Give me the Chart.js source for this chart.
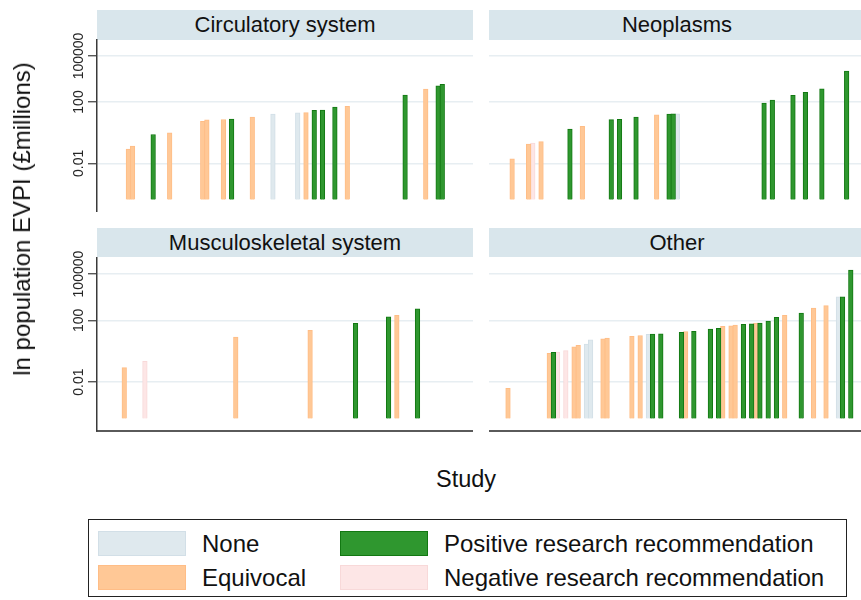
<!DOCTYPE html>
<html>
<head>
<meta charset="utf-8">
<title>Population EVPI by study</title>
<script src="https://cdn.jsdelivr.net/npm/chart.js@4.4.1/dist/chart.umd.min.js"></script>
<style>
  html, body { margin: 0; padding: 0; background: #fff; }
  #page { position: relative; width: 861px; height: 600px; overflow: hidden;
          font-family: "Liberation Sans", Arial, Helvetica, sans-serif; color: #111; }
  #page canvas { position: absolute; }
  .hdr { position: absolute; background: #d9e6ec; font-size: 22px; text-align: center; }
  .ytitle { position: absolute; left: 22px; top: 219px; font-size: 24px; white-space: nowrap;
            transform: translate(-50%, -50%) rotate(-90deg); }
  .xtitle { position: absolute; left: 466px; top: 479px; font-size: 23.5px;
            transform: translate(-50%, -50%); }
  .legend { position: absolute; left: 88px; top: 519px; width: 759px; height: 78px;
            border: 1px solid #222; box-sizing: border-box; }
  .sw { position: absolute; width: 88px; height: 25px; box-sizing: border-box; border: 1px solid; }
  .lt { position: absolute; font-size: 24px; line-height: 25px; white-space: nowrap; }
</style>
</head>
<body>
<div id="page">
  <div class="hdr" id="h0" style="left:97px;top:10px;width:376px;height:30px;line-height:30px;"></div>
  <div class="hdr" id="h1" style="left:489px;top:10px;width:376px;height:30px;line-height:30px;"></div>
  <div class="hdr" id="h2" style="left:97px;top:228px;width:376px;height:29px;line-height:29px;"></div>
  <div class="hdr" id="h3" style="left:489px;top:228px;width:376px;height:29px;line-height:29px;"></div>

  <!-- each canvas starts at its header so rotated tick labels near the top are not cut -->
  <canvas id="c0" width="473" height="202" style="left:0px;top:10px;"></canvas>
  <canvas id="c1" width="376" height="202" style="left:489px;top:10px;"></canvas>
  <canvas id="c2" width="473" height="205" style="left:0px;top:228px;"></canvas>
  <canvas id="c3" width="376" height="205" style="left:489px;top:228px;"></canvas>

  <div class="ytitle"></div>
  <div class="xtitle"></div>

  <div class="legend" id="legend"></div>
</div>

<script>
// Recommendation categories (legend order) and panel titles
const categories = ['None', 'Equivocal', 'Positive research recommendation', 'Negative research recommendation'];
const panelTitles = ['Circulatory system', 'Neoplasms', 'Musculoskeletal system', 'Other'];
const xAxisTitle = 'Study';
const yAxisTitle = 'ln population EVPI (£millions)';

// y-axis ticks (log scale)
const yTickValues = [0.01, 100, 100000];
const yTickLabels = ['0.01', '100', '100000'];

// Circulatory system: study rank, population EVPI (£m), recommendation
const circStudy = [4, 5, 10, 14, 22, 23, 27, 29, 34, 39, 45, 47, 49, 51, 54, 57, 71, 76, 79, 80];
const circEVPI  = [0.085, 0.135, 0.76, 1.0, 5.6, 6.8, 7.3, 7.6, 10.6, 16.6, 20, 20.5, 29, 29.5, 47, 52, 285, 700, 1140, 1400];
const circRec   = ['Equivocal', 'Equivocal', 'Positive', 'Equivocal', 'Equivocal', 'Equivocal', 'Equivocal', 'Positive',
                   'Equivocal', 'None', 'None', 'Equivocal', 'Positive', 'Positive', 'Positive', 'Equivocal',
                   'Positive', 'Equivocal', 'Positive', 'Positive'];

// Neoplasms
const neoStudy = [2, 6, 7, 9, 16, 19, 26, 28, 32, 37, 40, 41, 42, 63, 65, 70, 73, 77, 83];
const neoEVPI  = [0.02, 0.18, 0.21, 0.26, 1.7, 2.6, 7.1, 7.4, 10.5, 14.4, 16.6, 16.8, 17, 86, 135, 270, 425, 730, 10300];
const neoRec   = ['Equivocal', 'Equivocal', 'Negative', 'Equivocal', 'Positive', 'Equivocal', 'Positive', 'Positive',
                  'Positive', 'Equivocal', 'Positive', 'Positive', 'None', 'Positive', 'Positive', 'Positive',
                  'Positive', 'Positive', 'Positive'];

// Musculoskeletal system
const muscStudy = [3, 8, 30, 48, 59, 67, 69, 74];
const muscEVPI  = [0.086, 0.22, 8.2, 23, 64, 172, 212, 570];
const muscRec   = ['Equivocal', 'Negative', 'Equivocal', 'Equivocal', 'Positive', 'Positive', 'Equivocal', 'Positive'];

// Other
const otherStudy = [1, 11, 12, 13, 15, 17, 18, 20, 21, 24, 25, 31, 33, 35, 36, 38, 43, 44, 46, 50,
                    52, 53, 55, 56, 58, 60, 61, 62, 64, 66, 68, 72, 75, 78, 81, 82, 84];
const otherEVPI  = [0.0039, 0.74, 0.85, 0.88, 1.1, 1.9, 2.4, 2.9, 5.5, 6.3, 7.0, 9.1, 10.5, 12.3, 12.8, 13.5, 16.5, 19, 19.5, 27,
                    30, 41, 45, 49, 55, 60, 66, 67, 90, 157, 212, 300, 630, 895, 3300, 3400, 180000];
const otherRec   = ['Equivocal', 'Equivocal', 'Positive', 'Negative', 'Negative', 'Equivocal', 'Equivocal', 'None', 'None',
                    'Equivocal', 'Equivocal', 'Equivocal', 'Equivocal', 'None', 'Positive', 'Positive', 'Positive',
                    'Equivocal', 'Positive', 'Positive', 'Positive', 'Equivocal', 'Equivocal', 'Equivocal', 'Positive',
                    'Positive', 'Equivocal', 'Positive', 'Positive', 'Positive', 'Equivocal', 'Positive', 'Equivocal',
                    'Equivocal', 'None', 'Positive', 'Positive'];

// ---- appearance ----
const FONT = '"Liberation Sans", Arial, Helvetica, sans-serif';
const TICK_FONT = '"Liberation Sans Narrow", "Liberation Sans", Arial, sans-serif';
const TICK_SIZE = 14;
const BAR_BASE = 4.4e-5;          // bars rise from this value on the log axis
const Y_MIN = 6.8e-6, Y_MAX = 1.1e6;
const X_MIN = -3.6, X_MAX = 87.44;
const AXIS_W = 97, TICK_LEN = 9, LABEL_X = 79;

// With crossAlign 'center' Chart.js centres labels at (axis right - tick - padding - widest/2);
// measure the widest label so the rotated labels sit at LABEL_X.
const meas = document.createElement('canvas').getContext('2d');
meas.font = TICK_SIZE + 'px ' + TICK_FONT;
const widest = Math.max(...yTickLabels.map(t => meas.measureText(t).width));
const tickPad = AXIS_W - TICK_LEN - widest / 2 - LABEL_X;

// colour per recommendation, keyed by the short code used in the data
const recStyle = {
  Positive:  { label: categories[2], bg: '#2f972f', border: '#127812' },
  Equivocal: { label: categories[1], bg: '#ffc896', border: '#ffbd86' },
  Negative:  { label: categories[3], bg: '#fde6e6', border: '#f8d9d9' },
  None:      { label: categories[0], bg: '#dfe9ee', border: '#d2dfe7' }
};
// first dataset is painted last, so green sits on top
const drawOrder = ['Positive', 'Equivocal', 'Negative', 'None'];

function buildDatasets(study, evpi, rec) {
  return drawOrder.map(code => {
    const pts = [];
    study.forEach((s, i) => { if (rec[i] === code) pts.push({ x: s, y: evpi[i] }); });
    const st = recStyle[code];
    return {
      label: st.label,
      data: pts,
      backgroundColor: st.bg,
      borderColor: st.border,
      borderWidth: 1,
      barThickness: 4.6,
      grouped: false,
      base: BAR_BASE
    };
  });
}

function makePanel(canvasId, study, evpi, rec, isLeft, isBottom, headerH) {
  return new Chart(document.getElementById(canvasId), {
    type: 'bar',
    data: { datasets: buildDatasets(study, evpi, rec) },
    options: {
      responsive: false,
      animation: false,
      events: [],
      layout: { padding: { left: 0, right: 0, top: headerH, bottom: isBottom ? 2 : 0 } },
      plugins: { legend: { display: false }, tooltip: { enabled: false }, title: { display: false } },
      scales: {
        x: {
          type: 'linear',
          min: X_MIN, max: X_MAX,
          offset: false,
          display: isBottom,
          ticks: { display: false },
          grid: { display: false, drawTicks: false },
          border: { display: true, color: '#5a5a5a', width: 2 },
          afterFit: s => { s.height = 0; }
        },
        y: {
          type: 'logarithmic',
          min: Y_MIN, max: Y_MAX,
          bounds: 'data',
          stacked: false,
          afterBuildTicks: s => { s.ticks = yTickValues.map(v => ({ value: v })); },
          afterFit: s => { s.width = isLeft ? AXIS_W : 0; },
          ticks: {
            display: isLeft,
            minRotation: 90, maxRotation: 90,
            crossAlign: 'center',
            padding: tickPad,
            color: '#262626',
            font: { family: TICK_FONT, size: TICK_SIZE },
            callback: (v) => { const k = yTickValues.indexOf(v); return k >= 0 ? yTickLabels[k] : ''; }
          },
          grid: {
            color: '#e7eef2', lineWidth: 1.5,
            drawTicks: isLeft, tickLength: TICK_LEN, tickColor: '#3a3a3a', tickWidth: 1.2
          },
          border: { display: isLeft, color: '#3a3a3a', width: 1.5 }
        }
      }
    }
  });
}

makePanel('c0', circStudy, circEVPI, circRec, true, false, 30);
makePanel('c1', neoStudy, neoEVPI, neoRec, false, false, 30);
makePanel('c2', muscStudy, muscEVPI, muscRec, true, true, 30);
makePanel('c3', otherStudy, otherEVPI, otherRec, false, true, 30);

// panel headers and axis titles
panelTitles.forEach((t, i) => { document.getElementById('h' + i).textContent = t; });
document.querySelector('.xtitle').textContent = xAxisTitle;
document.querySelector('.ytitle').textContent = yAxisTitle;

// legend: two columns, two rows
const legend = document.getElementById('legend');
const legendOrder = ['None', 'Positive', 'Equivocal', 'Negative'];
const legendPos = [[9, 11], [251, 11], [9, 45], [251, 45]];
legendOrder.forEach((code, i) => {
  const st = recStyle[code];
  const [lx, ly] = legendPos[i];
  const sw = document.createElement('div');
  sw.className = 'sw';
  sw.style.left = lx + 'px'; sw.style.top = ly + 'px';
  sw.style.background = st.bg; sw.style.borderColor = st.border;
  legend.appendChild(sw);
  const tx = document.createElement('div');
  tx.className = 'lt';
  tx.style.left = (lx + 104) + 'px'; tx.style.top = ly + 'px';
  tx.textContent = st.label;
  legend.appendChild(tx);
});
</script>
</body>
</html>
